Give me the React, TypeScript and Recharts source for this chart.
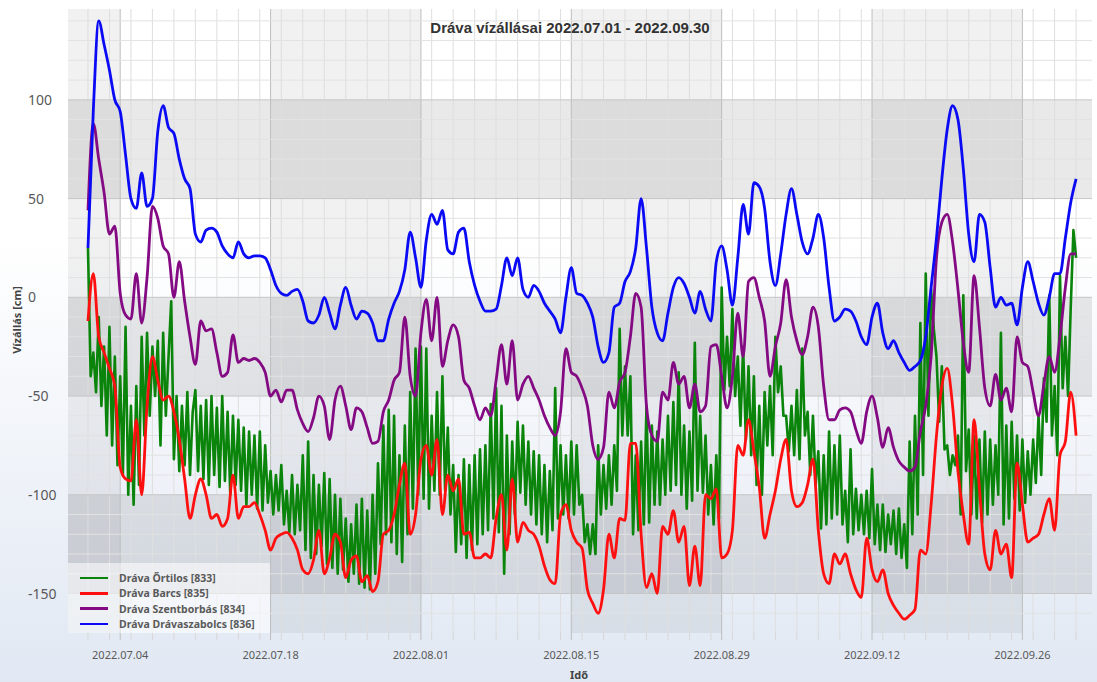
import React from 'react'
import { LineChart, Line, XAxis, YAxis, ReferenceArea, ReferenceLine } from 'recharts'

// day 0 = 2022.07.01 00:00
const startUtc = Date.UTC(2022, 6, 1)
const xMin = -1.86
const xMax = 93.48
const yMin = -170
const yMax = 146
const plotBottom = 633

const majorDays = [3, 17, 31, 45, 59, 73, 87]
const yTicks = [100, 50, 0, -50, -100, -150]
const shadedColumns = [[xMin, 3], [17, 31], [45, 59], [73, 87]]
const shadedRows = [[50, 100], [-50, 0], [-150, -100]]

// Dráva Drávaszabolcs [836], every 12 h
const blueValues = [
  25, 95, 140, 128, 115, 100, 94, 72, 50, 45, 63, 46, 50, 84, 97, 86, 83, 70, 60, 55, 32, 28, 34, 35, 33, 26, 22, 20, 28, 22, 20, 21,
  21, 20, 14, 6, 2, 1, 3, 4, -2, -12, -13, -9, 0, -8, -16, -4, 5, -4, -11, -7, -8, -13, -22, -22, -11, -3, 3, 14, 33, 20, 5,
  29, 42, 37, 44, 24, 22, 33, 35, 18, 6, -2, -7, -7, -6, 6, 20, 11, 20, 4, 0, 6, 3, -3, -7, -11, -18, 0, 15, 2, 1, -3, -10,
  -25, -33, -28, -5, -3, 8, 13, 25, 50, 25, -5, -18, -22, -8, 5, 10, 7, 0, -8, 3, -6, -12, 18, 26, 14, -4, 20, 47, 32, 58, 56, 45,
  18, 6, 22, 42, 55, 42, 28, 22, 30, 42, 30, 5, -12, -10, -6, -7, -12, -20, -24, -10, -3, -18, -26, -22, -28, -33, -37, -35, -32, -20, 5,
  30, 60, 85, 97, 90, 65, 32, 18, 42, 38, 15, -5, 0, -4, -3, -14, 5, 18, 8, -3, -9, 0, 12, 12, 30, 48, 60,
]

// Dráva Szentborbás [834], every 12 h
const purpleValues = [
  44, 88, 70, 53, 32, 36, 2, -9, -11, 12, -13, 10, 46, 40, 26, 22, 0, 18, -2, -20, -34, -12, -17, -16, -28, -40, -38, -19, -33, -31, -32, -31,
  -33, -38, -50, -47, -53, -47, -47, -57, -64, -68, -61, -50, -55, -72, -52, -45, -55, -67, -56, -58, -66, -74, -73, -58, -52, -42, -38, -10, -40, -50, -18,
  -1, -22, 0, -35, -22, -14, -20, -42, -46, -55, -62, -56, -60, -42, -24, -44, -22, -52, -44, -40, -46, -52, -60, -66, -70, -58, -26, -38, -40, -46, -55, -75,
  -82, -76, -48, -56, -43, -38, -20, 2, -5, -55, -70, -73, -48, -52, -33, -44, -40, -56, -44, -58, -55, -25, -24, -40, -56, -40, -8, -30, 8, 10, 0, -12,
  -40, -25, -13, 9, -10, -22, -29, -20, -5, -15, -45, -62, -62, -57, -56, -58, -67, -74, -58, -50, -61, -76, -66, -76, -83, -86, -88, -86, -68, -55, -30,
  20, 38, 42, 28, 4, -23, -38, 11, -15, -46, -55, -39, -52, -46, -58, -20, -33, -35, -48, -60, -44, -30, -38, -20, 5, 22, 22,
]

// Dráva Barcs [835], every 12 h
const redValues = [
  -12, 12, -20, -28, -36, -45, -86, -92, -93, -62, -100, -55, -30, -42, -52, -50, -58, -72, -92, -112, -100, -92, -100, -112, -110, -116, -112, -90, -112, -106, -106, -104,
  -110, -118, -128, -122, -120, -119, -122, -128, -138, -140, -133, -118, -140, -132, -120, -124, -142, -133, -131, -144, -141, -149, -144, -120, -118, -110, -95, -84, -120, -110, -82,
  -75, -90, -72, -110, -90, -98, -92, -120, -119, -132, -132, -130, -132, -112, -100, -128, -92, -124, -114, -118, -120, -126, -136, -143, -145, -110, -105, -118, -124, -127, -148, -155,
  -160, -148, -120, -132, -112, -113, -74, -74, -120, -147, -140, -150, -116, -120, -108, -124, -116, -146, -126, -146, -100, -102, -97, -132, -130, -118, -75, -80, -62, -78, -96, -122,
  -110, -98, -82, -72, -98, -106, -104, -95, -82, -118, -140, -145, -130, -135, -130, -140, -148, -152, -122, -138, -144, -138, -150, -156, -160, -163, -161, -158, -128, -130, -105,
  -70, -45, -36, -55, -88, -110, -125, -62, -97, -130, -138, -118, -130, -125, -142, -84, -105, -124, -122, -120, -110, -102, -118, -80, -73, -48, -70,
]

// Dráva Őrtilos [833], every 6 h
const greenValues = [
  25, -40, -28, -48, -10, -55, -25, -70, -15, -75, -30, -85, -40, -90, -15, -100, -55, -105, -45, -95,
  -20, -70, -18, -60, -25, -50, -22, -75, -18, -60, -30, -2, -82, -50, -88, -55, -85, -48, -90, -58,
  -47, -88, -55, -92, -52, -95, -50, -90, -56, -96, -50, -93, -58, -100, -60, -95, -62, -98, -66, -105,
  -68, -100, -70, -107, -68, -108, -75, -104, -88, -110, -90, -108, -85, -115, -98, -119, -90, -120, -95, -118,
  -80, -128, -73, -132, -90, -130, -95, -126, -89, -135, -92, -137, -100, -140, -102, -138, -112, -144, -115, -140,
  -105, -145, -102, -147, -108, -148, -100, -140, -84, -125, -65, -120, -57, -124, -60, -130, -80, -134, -65, -120,
  -48, -107, -26, -100, -25, -102, -26, -107, -60, -98, -48, -100, -40, -98, -66, -110, -85, -129, -90, -125,
  -82, -132, -85, -128, -80, -125, -77, -120, -75, -118, -54, -112, -46, -119, -55, -140, -70, -120, -73, -110,
  -63, -99, -65, -105, -73, -110, -78, -115, -80, -120, -85, -124, -88, -118, -46, -112, -75, -110, -80, -112,
  -73, -110, -75, -105, -100, -124, -115, -130, -115, -130, -75, -110, -85, -107, -80, -105, -75, -98, -16, -70,
  -35, -70, -40, -120, -80, -118, -73, -115, -55, -114, -65, -105, -68, -105, -72, -100, -60, -98, -53, -95,
  -38, -100, -65, -107, -68, -103, -23, -98, -60, -99, -70, -110, -85, -115, -80, -112, 5, -47, -20, -45,
  -6, -50, -30, -65, -25, -72, -35, -80, -40, -95, -55, -100, -48, -75, -45, -80, -20, -48, -35, -60,
  -60, -78, -55, -80, -47, -82, -26, -70, -58, -90, -60, -95, -78, -117, -80, -115, -68, -112, -75, -110,
  -70, -115, -98, -124, -77, -120, -97, -118, -100, -120, -98, -122, -87, -125, -105, -128, -105, -129, -110, -125,
  -108, -130, -107, -132, -115, -137, -73, -120, -60, -110, -13, -90, 12, -60, 4, -16, -30, -63, -35, -77,
  -75, -90, -80, -85, -70, -110, 1, -88, -67, -110, -70, -112, -72, -114, -68, -110, -72, -105, -75, -100,
  -18, -115, -65, -112, -63, -102, -70, -108, -72, -104, -78, -100, -72, -94, -60, -90, -41, -63, 1, -70,
  -45, -80, 11, -46, -20, -50, -5, 34, 20,
]

const toPoints = (values: number[], step: number) => values.map((v, i) => ({ t: i * step, v }))

const series = [
  { name: 'Dráva Őrtilos [833]', color: '#0a840a', data: toPoints(greenValues, 0.25), curve: 'linear', width: 2.6 },
  { name: 'Dráva Barcs [835]', color: '#ff1010', data: toPoints(redValues, 0.5), curve: 'monotone', width: 2.8 },
  { name: 'Dráva Szentborbás [834]', color: '#840a84', data: toPoints(purpleValues, 0.5), curve: 'monotone', width: 2.8 },
  { name: 'Dráva Drávaszabolcs [836]', color: '#0a0af5', data: toPoints(blueValues, 0.5), curve: 'monotone', width: 2.8 },
]

const minorDays: number[] = []
for (let d = 0; d <= 92; d += 2) minorDays.push(d)
const xTickDays = [...minorDays, ...majorDays].sort((a, b) => a - b)

const minorLevels: number[] = []
for (let v = -160; v <= 140; v += 10) if (v % 50 !== 0) minorLevels.push(v)

const tickFont = "'Noto Sans', 'Open Sans', sans-serif"

const formatDay = (d: number) => {
  const dt = new Date(startUtc + d * 86400000)
  const mm = String(dt.getUTCMonth() + 1).padStart(2, '0')
  const dd = String(dt.getUTCDate()).padStart(2, '0')
  return `${dt.getUTCFullYear()}.${mm}.${dd}`
}

const XTick = (props: any) => {
  const { x, payload } = props
  const major = majorDays.includes(payload.value)
  return (
    <g>
      <line x1={x} x2={x} y1={plotBottom} y2={plotBottom + 7} stroke={major ? '#bdbdbd' : '#d6d6d6'} />
      {major && (
        <text x={x} y={659} textAnchor="middle" fill="#595959" fontSize={11} fontFamily={tickFont}>
          {formatDay(payload.value)}
        </text>
      )}
    </g>
  )
}

const YTick = (props: any) => {
  const { y, payload } = props
  return (
    <text x={28} y={y + 5} textAnchor="start" fill="#595959" fontSize={14} fontFamily={tickFont}>
      {payload.value}
    </text>
  )
}

export default function App() {
  return (
    <div
      style={{
        position: 'absolute',
        left: 0,
        top: 0,
        width: 1097,
        height: 682,
        overflow: 'hidden',
        background: 'linear-gradient(180deg, #ffffff 0%, #ffffff 35%, #e1e8f3 100%)',
        fontFamily: "'Liberation Sans', Arial, sans-serif",
      }}
    >
      <LineChart width={1097} height={682} margin={{ top: 9, right: 5, bottom: 0, left: 0 }}>
        <XAxis
          type="number"
          dataKey="t"
          domain={[xMin, xMax]}
          ticks={xTickDays}
          interval={0}
          allowDataOverflow
          height={49}
          axisLine={false}
          tickLine={false}
          tick={<XTick />}
        />
        <YAxis
          type="number"
          domain={[yMin, yMax]}
          ticks={yTicks}
          interval={0}
          allowDataOverflow
          width={68}
          axisLine={false}
          tickLine={false}
          tick={<YTick />}
        />
        {shadedColumns.map(([a, b]) => (
          <ReferenceArea key={'c' + a} x1={a} x2={b} fill="#000" fillOpacity={0.055} strokeOpacity={0} ifOverflow="hidden" />
        ))}
        {shadedRows.map(([a, b]) => (
          <ReferenceArea key={'r' + a} y1={a} y2={b} fill="#000" fillOpacity={0.085} strokeOpacity={0} ifOverflow="hidden" />
        ))}
        {minorDays.map((d) => (
          <ReferenceLine key={'vx' + d} x={d} stroke="#dedede" strokeWidth={1} ifOverflow="hidden" />
        ))}
        {majorDays.map((d) => (
          <ReferenceLine key={'mx' + d} x={d} stroke="#bdbdbd" strokeWidth={1} ifOverflow="hidden" />
        ))}
        {minorLevels.map((v) => (
          <ReferenceLine key={'vy' + v} y={v} stroke="#e2e2e2" strokeWidth={1} ifOverflow="hidden" />
        ))}
        {yTicks.map((v) => (
          <ReferenceLine key={'my' + v} y={v} stroke="#c6c6c6" strokeWidth={1} ifOverflow="hidden" />
        ))}
        {series.map((s) => (
          <Line
            key={s.name}
            data={s.data}
            dataKey="v"
            type={s.curve as any}
            stroke={s.color}
            strokeWidth={s.width}
            strokeLinejoin="round"
            dot={false}
            activeDot={false}
            isAnimationActive={false}
          />
        ))}
      </LineChart>

      <div
        style={{
          position: 'absolute',
          left: 570,
          top: 19,
          transform: 'translateX(-50%)',
          whiteSpace: 'nowrap',
          fontSize: 15,
          lineHeight: '18px',
          fontWeight: 'bold',
          color: '#333',
        }}
      >
        Dráva vízállásai 2022.07.01 - 2022.09.30
      </div>

      <div
        style={{
          position: 'absolute',
          left: 16,
          top: 320,
          transform: 'translate(-50%, -50%) rotate(-90deg)',
          whiteSpace: 'nowrap',
          fontSize: 11,
          lineHeight: '13px',
          fontWeight: 'bold',
          color: '#444',
          fontFamily: tickFont,
        }}
      >
        Vízállás [cm]
      </div>

      <div
        style={{
          position: 'absolute',
          left: 579,
          top: 669,
          transform: 'translateX(-50%)',
          fontSize: 11,
          lineHeight: '12px',
          fontWeight: 'bold',
          color: '#444',
          fontFamily: tickFont,
        }}
      >
        Idő
      </div>

      <div
        style={{
          position: 'absolute',
          left: 68,
          top: 563,
          width: 202,
          height: 70,
          background: 'rgba(255,255,255,0.55)',
        }}
      >
        {series.map((s, i) => (
          <div
            key={s.name}
            style={{
              position: 'absolute',
              left: 12,
              top: 8 + i * 15.3,
              height: 14,
              display: 'flex',
              alignItems: 'center',
              whiteSpace: 'nowrap',
            }}
          >
            <span style={{ display: 'inline-block', width: 28, height: 2.5, background: s.color }} />
            <span
              style={{
                marginLeft: 11,
                fontSize: 10.5,
                fontWeight: 'bold',
                color: '#5a5a5a',
                fontFamily: tickFont,
              }}
            >
              {s.name}
            </span>
          </div>
        ))}
      </div>
    </div>
  )
}
